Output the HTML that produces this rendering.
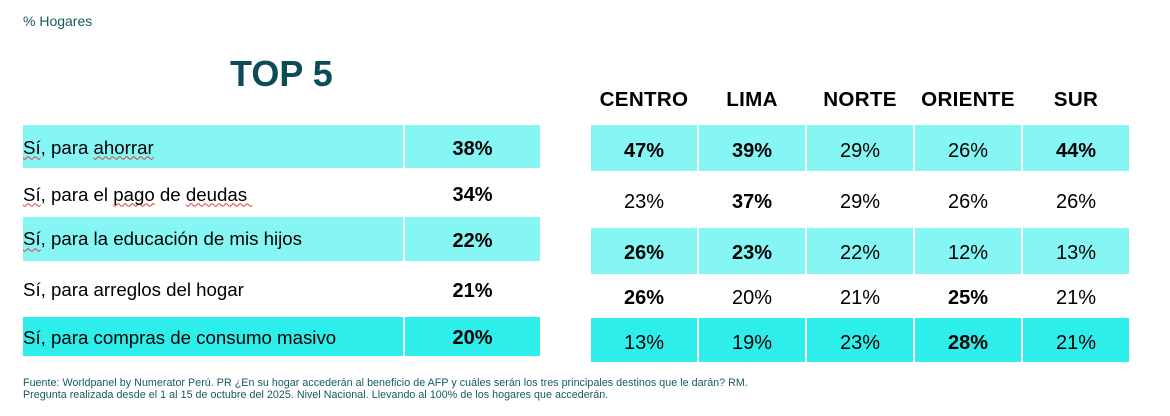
<!DOCTYPE html>
<html>
<head>
<meta charset="utf-8">
<style>
  html, body { margin:0; padding:0; }
  body { width:1170px; height:416px; background:#ffffff; position:relative; overflow:hidden;
         font-family:"Liberation Sans", Arial, sans-serif; color:#000; }
  .abs { position:absolute; }
  .bg1 { background:#85F6F4; }
  .bg2 { background:#2EEEEC; }
  .lbl { position:absolute; left:23px; height:30px; line-height:30px; font-size:18.67px; white-space:nowrap; }
  .val { position:absolute; height:30px; line-height:30px; font-size:20px; text-align:center; white-space:nowrap; }
  .b { font-weight:bold; }
  .hdr { position:absolute; top:85px; height:30px; line-height:30px; font-size:20.6px; font-weight:bold; text-align:center; width:106px; letter-spacing:0.3px; }
  .sq { text-decoration: underline wavy #e23b3b; text-decoration-thickness:1px; text-underline-offset:2px; text-decoration-skip-ink:none; }
  .foot { position:absolute; left:23px; font-size:10.7px; color:#145A62; white-space:nowrap; line-height:12px; letter-spacing:0.04px; }
</style>
</head>
<body>

<div class="abs" style="left:23px;top:6px;height:30px;line-height:30px;font-size:14px;color:#145A62;">% Hogares</div>
<div class="abs" style="left:230px;top:55px;height:38px;line-height:38px;font-size:36px;font-weight:bold;color:#0B4C56;">TOP 5</div>

<!-- Left table backgrounds -->
<div class="abs bg1" style="left:23px;top:125px;width:380px;height:43px;"></div>
<div class="abs bg1" style="left:405px;top:125px;width:135px;height:43px;"></div>
<div class="abs bg1" style="left:23px;top:217px;width:380px;height:44px;"></div>
<div class="abs bg1" style="left:405px;top:217px;width:135px;height:44px;"></div>
<div class="abs bg2" style="left:23px;top:317px;width:380px;height:39px;"></div>
<div class="abs bg2" style="left:405px;top:317px;width:135px;height:39px;"></div>

<!-- Left labels -->
<div class="lbl" style="top:132.5px;"><span class="sq">Sí</span>, para <span class="sq">ahorrar</span></div>
<div class="lbl" style="top:179.7px;"><span class="sq">Sí</span>, para el <span class="sq">pago</span> de <span class="sq">deudas&nbsp;</span></div>
<div class="lbl" style="top:224.3px;"><span class="sq">Sí</span>, para la educación de mis hijos</div>
<div class="lbl" style="top:274.5px;">Sí, para arreglos del hogar</div>
<div class="lbl" style="top:322.8px;">Sí, para compras de consumo masivo</div>

<!-- Left values -->
<div class="val b" style="left:405px;width:135px;top:134.2px;">38%</div>
<div class="val b" style="left:405px;width:135px;top:180px;">34%</div>
<div class="val b" style="left:405px;width:135px;top:226.2px;">22%</div>
<div class="val b" style="left:405px;width:135px;top:276.3px;">21%</div>
<div class="val b" style="left:405px;width:135px;top:323px;">20%</div>

<!-- Right headers -->
<div class="hdr" style="left:591px;">CENTRO</div>
<div class="hdr" style="left:699px;">LIMA</div>
<div class="hdr" style="left:807px;">NORTE</div>
<div class="hdr" style="left:915px;">ORIENTE</div>
<div class="hdr" style="left:1023px;">SUR</div>

<!-- Right table backgrounds -->
<div class="abs bg1" style="left:591px;top:125px;width:106px;height:46px;"></div>
<div class="abs bg1" style="left:699px;top:125px;width:106px;height:46px;"></div>
<div class="abs bg1" style="left:807px;top:125px;width:106px;height:46px;"></div>
<div class="abs bg1" style="left:915px;top:125px;width:106px;height:46px;"></div>
<div class="abs bg1" style="left:1023px;top:125px;width:106px;height:46px;"></div>

<div class="abs bg1" style="left:591px;top:228px;width:106px;height:46px;"></div>
<div class="abs bg1" style="left:699px;top:228px;width:106px;height:46px;"></div>
<div class="abs bg1" style="left:807px;top:228px;width:106px;height:46px;"></div>
<div class="abs bg1" style="left:915px;top:228px;width:106px;height:46px;"></div>
<div class="abs bg1" style="left:1023px;top:228px;width:106px;height:46px;"></div>

<div class="abs bg2" style="left:591px;top:318px;width:106px;height:44px;"></div>
<div class="abs bg2" style="left:699px;top:318px;width:106px;height:44px;"></div>
<div class="abs bg2" style="left:807px;top:318px;width:106px;height:44px;"></div>
<div class="abs bg2" style="left:915px;top:318px;width:106px;height:44px;"></div>
<div class="abs bg2" style="left:1023px;top:318px;width:106px;height:44px;"></div>

<!-- Right values row 1 -->
<div class="val b" style="left:591px;width:106px;top:135.5px;">47%</div>
<div class="val b" style="left:699px;width:106px;top:135.5px;">39%</div>
<div class="val"   style="left:807px;width:106px;top:135.5px;">29%</div>
<div class="val"   style="left:915px;width:106px;top:135.5px;">26%</div>
<div class="val b" style="left:1023px;width:106px;top:135.5px;">44%</div>
<!-- row 2 -->
<div class="val"   style="left:591px;width:106px;top:186.7px;">23%</div>
<div class="val b" style="left:699px;width:106px;top:186.7px;">37%</div>
<div class="val"   style="left:807px;width:106px;top:186.7px;">29%</div>
<div class="val"   style="left:915px;width:106px;top:186.7px;">26%</div>
<div class="val"   style="left:1023px;width:106px;top:186.7px;">26%</div>
<!-- row 3 -->
<div class="val b" style="left:591px;width:106px;top:237.9px;">26%</div>
<div class="val b" style="left:699px;width:106px;top:237.9px;">23%</div>
<div class="val"   style="left:807px;width:106px;top:237.9px;">22%</div>
<div class="val"   style="left:915px;width:106px;top:237.9px;">12%</div>
<div class="val"   style="left:1023px;width:106px;top:237.9px;">13%</div>
<!-- row 4 -->
<div class="val b" style="left:591px;width:106px;top:283.3px;">26%</div>
<div class="val"   style="left:699px;width:106px;top:283.3px;">20%</div>
<div class="val"   style="left:807px;width:106px;top:283.3px;">21%</div>
<div class="val b" style="left:915px;width:106px;top:283.3px;">25%</div>
<div class="val"   style="left:1023px;width:106px;top:283.3px;">21%</div>
<!-- row 5 -->
<div class="val"   style="left:591px;width:106px;top:327.9px;">13%</div>
<div class="val"   style="left:699px;width:106px;top:327.9px;">19%</div>
<div class="val"   style="left:807px;width:106px;top:327.9px;">23%</div>
<div class="val b" style="left:915px;width:106px;top:327.9px;">28%</div>
<div class="val"   style="left:1023px;width:106px;top:327.9px;">21%</div>

<!-- Footnote -->
<div class="foot" style="top:377px;">Fuente: Worldpanel by Numerator Perú. PR ¿En su hogar accederán al beneficio de AFP y cuáles serán los tres principales destinos que le darán? RM.</div>
<div class="foot" style="top:389px;">Pregunta realizada desde el 1 al 15 de octubre del 2025. Nivel Nacional. Llevando al 100% de los hogares que accederán.</div>

</body>
</html>
